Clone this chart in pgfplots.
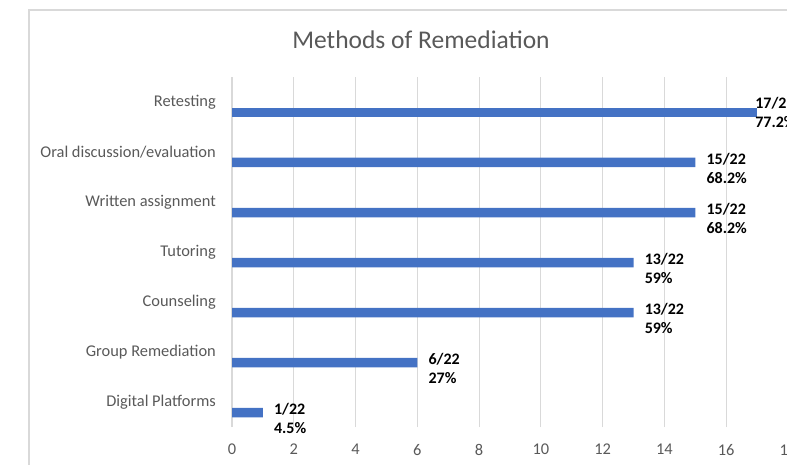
\documentclass[border=0pt]{standalone}
\usepackage{pgfplots}
\pgfplotsset{compat=1.18}
\usepackage{pgfplotstable}
\usepackage{fontspec}
\setmainfont{Carlito}
\definecolor{barblue}{HTML}{4472C4}
\definecolor{txtgray}{HTML}{595959}
\definecolor{gridc}{HTML}{D9D9D9}
\pgfplotstableread{
idx val lab
0 1 {1/22\\4.5\%}
1 6 {6/22\\27\%}
2 13 {13/22\\59\%}
3 13 {13/22\\59\%}
4 15 {15/22\\68.2\%}
5 15 {15/22\\68.2\%}
}\datamain
\pgfplotstableread{
idx val lab
6 17 {17/22\\77.2\%}
}\dataretest
\begin{document}
\begin{tikzpicture}[x=1pt,y=1pt]
\draw[gridc, line width=1.3pt] (29,-10) -- (29,454) -- (800,454);
\node[font=\fontsize{25.5}{30}\selectfont, text=txtgray] at (421,424) {Methods of Remediation};
\begin{axis}[
  at={(232pt,37pt)}, anchor=south west,
  scale only axis, width=556pt, height=350pt,
  xmin=0, xmax=18, ymin=-0.5, ymax=6.5,
  xbar, bar width=9.5pt, bar shift=-10.5pt,
  axis line style={draw=none},
  major tick length=0pt,
  xtick={0,2,...,18},
  ytick={0,1,2,3,4,5,6},
  yticklabels={Digital Platforms, Group Remediation, Counseling, Tutoring, Written assignment, Oral discussion/evaluation, Retesting},
  xmajorgrids, grid style={gridc, line width=1.2pt},
  /pgf/number format/assume math mode=true,
  tick label style={font=\fontsize{16.4}{19}\selectfont, text=txtgray, inner sep=0pt},
  xticklabel style={yshift=-17pt},
  yticklabel style={xshift=-16pt},
  clip=false,
  every node near coord/.append style={font=\bfseries\fontsize{16}{19}\selectfont, text=black, align=left, anchor=west, inner sep=0pt},
]
\addplot[fill=barblue, draw=none,
  point meta=explicit symbolic,
  nodes near coords,
  nodes near coords style={xshift=11pt, yshift=-6pt}]
  table[x=val, y=idx, meta=lab] {\datamain};
\addplot[fill=barblue, draw=none,
  point meta=explicit symbolic,
  nodes near coords,
  nodes near coords style={xshift=-2pt, yshift=0pt}]
  table[x=val, y=idx, meta=lab] {\dataretest};
\end{axis}
\pgfresetboundingbox
\useasboundingbox (0,0) rectangle (787,464);
\end{tikzpicture}
\end{document}
